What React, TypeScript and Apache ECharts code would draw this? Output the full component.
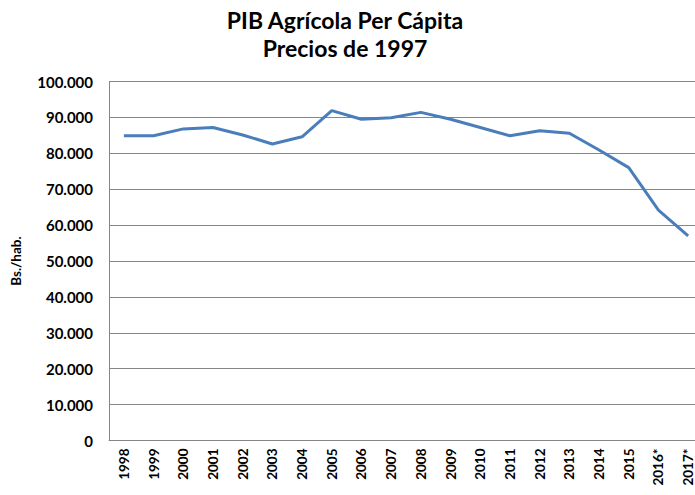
import React, { useEffect, useRef } from "react";
import * as echarts from "echarts";

const years = ["1998","1999","2000","2001","2002","2003","2004","2005","2006","2007","2008","2009","2010","2011","2012","2013","2014","2015","2016*","2017*"];
const pibPerCapita = [84900, 84900, 86800, 87200, 85100, 82600, 84600, 91900, 89500, 89900, 91400, 89500, 87200, 84900, 86300, 85600, 80900, 76000, 64200, 57000];
const yTicks = { min: 0, max: 100000, interval: 10000 };

function fmt(v: number): string {
  return String(Math.round(v)).replace(/\B(?=(\d{3})+(?!\d))/g, ".");
}

export default function App() {
  const ref = useRef<HTMLDivElement>(null);
  useEffect(() => {
    if (!ref.current) return;
    const chart = echarts.init(ref.current, null, { renderer: "svg" });
    const font = "Lato, 'Liberation Sans', sans-serif";
    chart.setOption({
      animation: false,
      backgroundColor: "#ffffff",
      title: {
        text: "PIB Agrícola Per Cápita\nPrecios de 1997",
        left: 340,
        top: 1,
        textAlign: "center",
        textStyle: { fontFamily: font, fontWeight: "bold", fontSize: 23, lineHeight: 28, color: "#000" },
      },
      grid: { left: 109, right: 0, top: 81.5, bottom: 54.5, containLabel: false },
      xAxis: {
        type: "category",
        data: years,
        boundaryGap: true,
        axisLine: { lineStyle: { color: "#868686", width: 1 } },
        axisTick: { show: false },
        axisLabel: { rotate: 90, interval: 0, margin: 8, color: "#000", fontFamily: font, fontWeight: "bold", fontSize: 13.5 },
      },
      yAxis: {
        type: "value",
        min: yTicks.min,
        max: yTicks.max,
        interval: yTicks.interval,
        name: "Bs./hab.",
        nameLocation: "middle",
        nameGap: 86,
        nameTextStyle: { fontFamily: font, fontWeight: "bold", fontSize: 13.5, color: "#000" },
        axisLine: { show: true, lineStyle: { color: "#868686", width: 1 } },
        axisTick: { show: false },
        splitLine: { lineStyle: { color: "#868686", width: 1 } },
        axisLabel: { formatter: (v: number) => fmt(v), margin: 16, color: "#000", fontFamily: font, fontWeight: "bold", fontSize: 15 },
      },
      series: [
        {
          type: "line",
          data: pibPerCapita,
          showSymbol: false,
          symbol: "none",
          lineStyle: { color: "#4a7ebb", width: 3 },
        },
      ],
    });
    return () => chart.dispose();
  }, []);
  return (
    <div style={{ position: "fixed", left: 0, top: 0, width: 695, height: 495, overflow: "hidden", background: "#fff" }}>
      <div ref={ref} style={{ width: 703, height: 495 }} />
    </div>
  );
}
